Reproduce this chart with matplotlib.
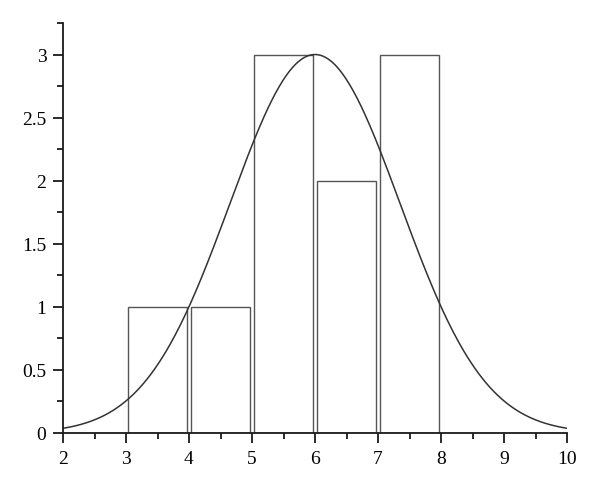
import numpy as np
import matplotlib
matplotlib.use("Agg")
import matplotlib.pyplot as plt
from matplotlib.ticker import MultipleLocator, FuncFormatter

bin_left = [3, 4, 5, 6, 7]
counts = [1, 1, 3, 2, 3]
curve_mean = 6.0
curve_sigma = 1.35
curve_peak = 3.0

plt.rcParams['font.family'] = ['Liberation Serif', 'DejaVu Serif']

fig = plt.figure(figsize=(6, 4.89), dpi=100)
ax = fig.add_axes([0.105, 0.1125, 0.84, 0.8385])

gap = 0.025
for l, c in zip(bin_left, counts):
    ax.bar(l + gap, c, width=1 - 2 * gap, align='edge', facecolor='none',
           edgecolor='#555555', linewidth=1.0)

xs = np.linspace(2, 10, 400)
ys = curve_peak * np.exp(-(xs - curve_mean) ** 2 / (2 * curve_sigma ** 2))
ax.plot(xs, ys, color='#333333', linewidth=1.1)

ax.set_xlim(2, 10)
ax.set_ylim(0, 3.25)
for s in ['top', 'right']:
    ax.spines[s].set_visible(False)
for s in ['left', 'bottom']:
    ax.spines[s].set_linewidth(1.3)
    ax.spines[s].set_color('#1a1a1a')

ax.xaxis.set_major_locator(MultipleLocator(1))
ax.xaxis.set_minor_locator(MultipleLocator(0.5))
ax.yaxis.set_major_locator(MultipleLocator(0.5))
ax.yaxis.set_minor_locator(MultipleLocator(0.25))
ax.yaxis.set_major_formatter(FuncFormatter(lambda v, p: ('%g' % v)))
ax.tick_params(which='major', length=7, width=1.3, color='#1a1a1a', labelsize=14)
ax.tick_params(which='minor', length=4, width=1.3, color='#1a1a1a')
ax.tick_params(axis='x', pad=5)
ax.tick_params(axis='y', pad=5)

fig.savefig('out.png', dpi=100)
